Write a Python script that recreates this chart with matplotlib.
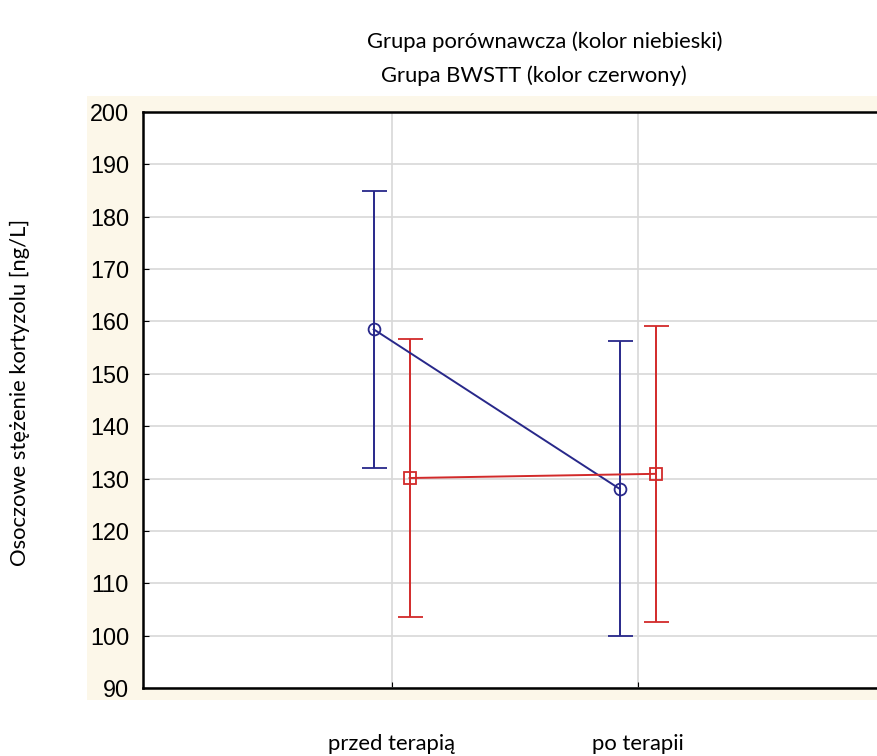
import numpy as np
import matplotlib
matplotlib.use("Agg")
import matplotlib.pyplot as plt
from matplotlib.patches import Rectangle

# dane
etapy = ["przed terapią", "po terapii"]
porown_srednia = [158.5, 128.0]
porown_gora = [185.0, 156.3]
porown_dol = [132.0, 99.9]
bwstt_srednia = [130.1, 130.9]
bwstt_gora = [156.6, 159.2]
bwstt_dol = [103.6, 102.6]

niebieski = "#28288a"
czerwony = "#d22a2a"
napis_font = ["Lato", "DejaVu Sans"]
napis_size = 15.8

fig = plt.figure(figsize=(8.78, 7.56), dpi=100)

# kremowe tlo za osiami
fig.patches.append(Rectangle((87 / 878, 1 - 700 / 756), 1 - 87 / 878, (700 - 96) / 756,
                             transform=fig.transFigure, facecolor="#fcf7e9",
                             edgecolor="none", zorder=-10))

ax = fig.add_axes([143 / 878, 1 - 688 / 756, (884 - 143) / 878, (688 - 112) / 756])
ax.set_facecolor("white")

x = np.arange(len(etapy))
dx = 0.073

m = np.array(porown_srednia)
err = [m - np.array(porown_dol), np.array(porown_gora) - m]
ax.errorbar(x - dx, m, yerr=err, fmt="-o", color=niebieski, mfc="none", mec=niebieski,
            ms=8.5, mew=1.3, lw=1.4, elinewidth=1.4, capsize=9, capthick=1.4, zorder=3)

m = np.array(bwstt_srednia)
err = [m - np.array(bwstt_dol), np.array(bwstt_gora) - m]
ax.errorbar(x + dx, m, yerr=err, fmt="-s", color=czerwony, mfc="none", mec=czerwony,
            ms=8, mew=1.3, lw=1.4, elinewidth=1.4, capsize=9, capthick=1.4, zorder=3)

ax.set_xlim(-1.01, 2.0)
ax.set_ylim(90, 200)
ax.set_yticks(np.arange(90, 201, 10))
ax.set_xticks(x)
ax.set_xticklabels(etapy, family=napis_font, fontsize=napis_size)
ax.tick_params(axis="x", direction="in", length=4, pad=33)
ax.tick_params(axis="y", direction="in", length=4, pad=10, labelsize=16.8)
for t in ax.get_yticklabels():
    t.set_family(["Liberation Sans", "DejaVu Sans"])

ax.grid(True, color="#d8d8d8", lw=1.2)
ax.set_axisbelow(True)
for s in ["left", "bottom", "top"]:
    ax.spines[s].set_linewidth(1.8)
ax.spines["right"].set_visible(False)

fig.text(20 / 878, 1 - 392 / 756, "Osoczowe stężenie kortyzolu [ng/L]", rotation=90,
         ha="center", va="center", family=napis_font, fontsize=napis_size)
fig.text(545 / 878, 1 - 42 / 756, "Grupa porównawcza (kolor niebieski)",
         ha="center", va="center", family=napis_font, fontsize=napis_size)
fig.text(534 / 878, 1 - 76 / 756, "Grupa BWSTT (kolor czerwony)",
         ha="center", va="center", family=napis_font, fontsize=napis_size)

fig.savefig("out.png", dpi=100)
